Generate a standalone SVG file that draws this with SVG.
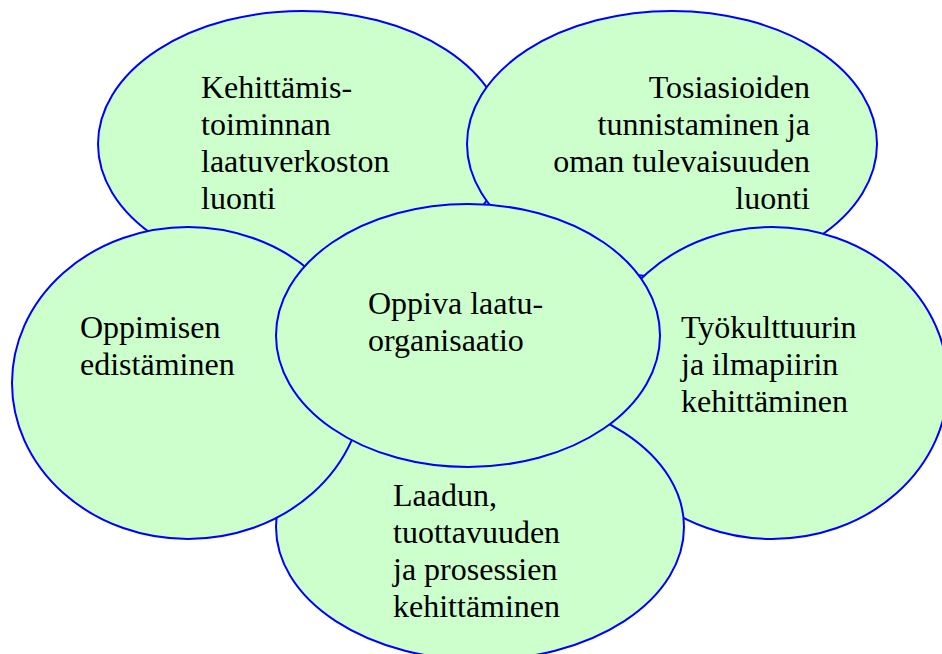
<svg xmlns="http://www.w3.org/2000/svg" width="942" height="654" viewBox="0 0 942 654">
  <style>
    .bubble { fill: #CCFFCC; stroke: #0000FF; stroke-width: 2; }
    .label { font-family: "Liberation Serif", "Times New Roman", serif; font-size: 32px; fill: #000000; }
    .end { text-anchor: end; }
  </style>
  <rect x="0" y="0" width="942" height="654" fill="#FFFFFF"/>
  <!-- no connectors in this diagram -->
  <g id="connectors"/>

  <g id="node-laatuverkosto">
    <ellipse class="bubble" cx="302" cy="144" rx="204" ry="133"/>
    <text class="label" x="201" y="97.5">Kehittämis-</text>
    <text class="label" x="201" y="134.5">toiminnan</text>
    <text class="label" x="201" y="171.5">laatuverkoston</text>
    <text class="label" x="201" y="208.5">luonti</text>
  </g>

  <g id="node-tosiasiat">
    <ellipse class="bubble" cx="672" cy="144" rx="205" ry="133"/>
    <text class="label end" x="810" y="97.5">Tosiasioiden</text>
    <text class="label end" x="810" y="134.5">tunnistaminen ja</text>
    <text class="label end" x="810" y="171.5">oman tulevaisuuden</text>
    <text class="label end" x="810" y="208.5">luonti</text>
  </g>

  <g id="node-tyokulttuuri">
    <ellipse class="bubble" cx="772" cy="383" rx="176" ry="156"/>
    <text class="label" x="681" y="337.5">Työkulttuurin</text>
    <text class="label" x="681" y="374.5">ja ilmapiirin</text>
    <text class="label" x="681" y="411.5">kehittäminen</text>
  </g>

  <g id="node-laatu-prosessit">
    <ellipse class="bubble" cx="480" cy="527" rx="204" ry="133"/>
    <text class="label" x="393" y="505.5">Laadun,</text>
    <text class="label" x="393" y="542.5">tuottavuuden</text>
    <text class="label" x="393" y="579.5">ja prosessien</text>
    <text class="label" x="393" y="616.5">kehittäminen</text>
  </g>

  <g id="node-oppiminen">
    <ellipse class="bubble" cx="188" cy="383" rx="176" ry="156"/>
    <text class="label" x="80" y="338">Oppimisen</text>
    <text class="label" x="80" y="375">edistäminen</text>
  </g>

  <g id="node-keskus">
    <ellipse class="bubble" cx="468" cy="335.5" rx="192" ry="131.5"/>
    <text class="label" x="368" y="313.5">Oppiva laatu-</text>
    <text class="label" x="368" y="350.5">organisaatio</text>
  </g>
</svg>
